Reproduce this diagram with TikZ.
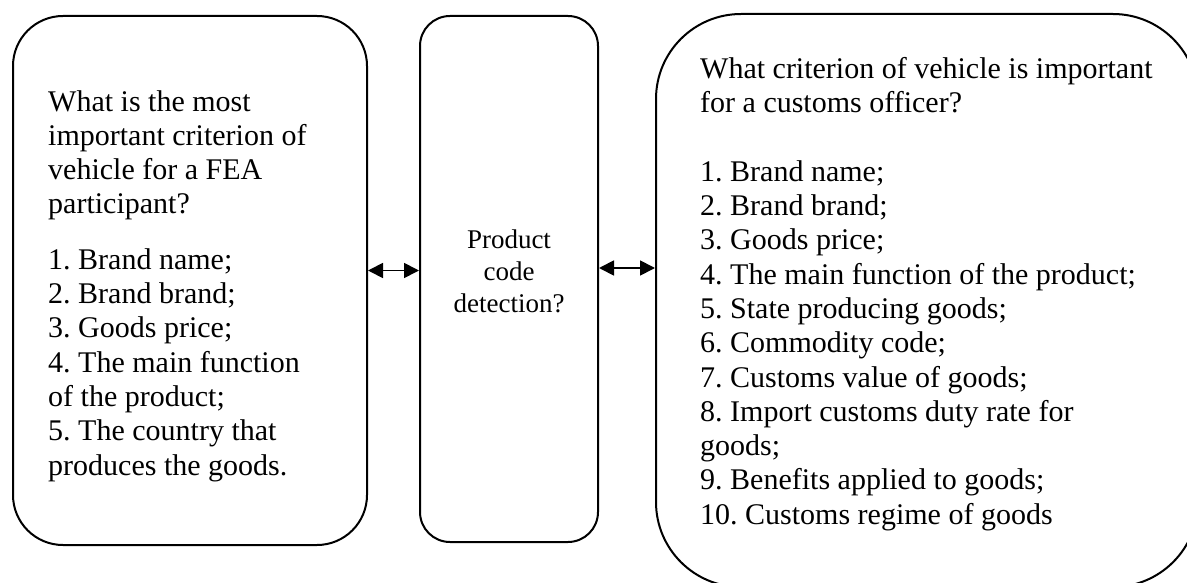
\documentclass[tikz,border=0pt]{standalone}
\usepackage{fontspec}
\setmainfont{Liberation Serif}
\frenchspacing
\usetikzlibrary{arrows.meta}
\tikzset{
  box/.style={draw,line width=2pt,rectangle,inner sep=0pt},
  txt/.style={inner sep=0pt,align=left,font=\fontsize{30}{34.3}\selectfont},
  link/.style={line width=1.8pt,{Triangle[length=15pt,width=15pt]}-{Triangle[length=15pt,width=15pt]}}
}
\begin{document}
\begin{tikzpicture}[x=1pt,y=-1pt]
    \useasboundingbox (0,0) rectangle (1187,583);
    \clip (0,0) rectangle (1187,583);

    \node[box,rounded corners=50pt,minimum width=354pt,minimum height=529pt] (fea) at (190,280.5) {};
    \node[box,rounded corners=30pt,minimum width=178pt,minimum height=526pt] (code) at (509,279) {};
    \node[box,rounded corners=85pt,minimum width=542pt,minimum height=573pt] (officer) at (927,300.5) {};

    \node[txt,anchor=north west] (featxt) at (48,90) {What is the most\\important criterion of\\vehicle for a FEA\\participant?\\[21pt]1. Brand name;\\2. Brand brand;\\3. Goods price;\\4. The main function\\of the product;\\5. The country that\\produces the goods.};
    \node[txt,anchor=north,align=center,font=\fontsize{27}{32}\selectfont] (codetxt) at (509,230) {Product\\code\\detection?};
    \node[txt,anchor=north west] (officertxt) at (700,57) {What criterion of vehicle is important\\for a customs officer?\\[34.3pt]1. Brand name;\\2. Brand brand;\\3. Goods price;\\4. The main function of the product;\\5. State producing goods;\\6. Commodity code;\\7. Customs value of goods;\\8. Import customs duty rate for\\goods;\\9. Benefits applied to goods;\\10. Customs regime of goods};

    \draw[link] ([yshift=10pt]fea.east) -- ([yshift=10pt]fea.east -| code.west);
    \draw[link] ([yshift=11pt]code.east) -- ([yshift=11pt]code.east -| officer.west);
\end{tikzpicture}
\end{document}
